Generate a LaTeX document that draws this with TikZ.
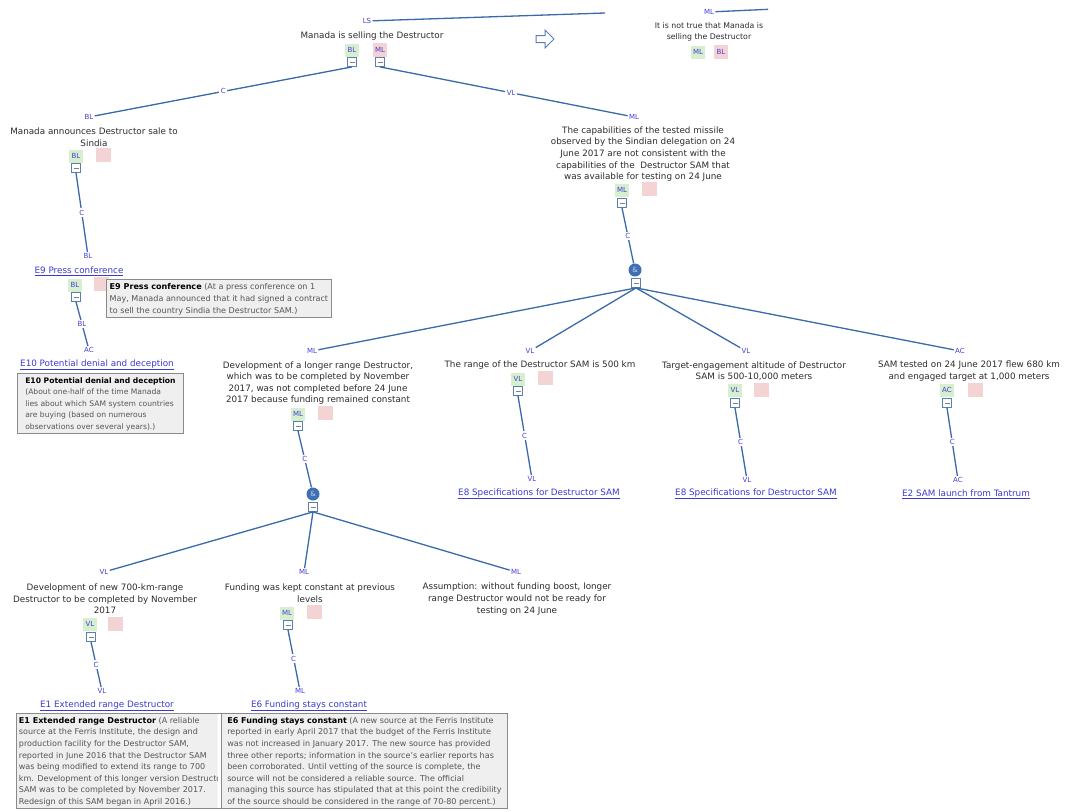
\documentclass[tikz,border=0pt]{standalone}
\usepackage{fontspec}
\setmainfont{DejaVu Sans}
\definecolor{lblblue}{RGB}{72,62,216}
\definecolor{connblue}{RGB}{58,106,168}
\definecolor{taggreen}{RGB}{214,239,207}
\definecolor{tagpink}{RGB}{243,211,211}
\definecolor{foldblue}{RGB}{91,127,174}
\definecolor{andblue}{RGB}{63,111,181}
\definecolor{linkblue}{RGB}{59,59,209}
\definecolor{txtgray}{RGB}{45,45,45}
\definecolor{popfill}{RGB}{239,239,239}
\definecolor{popdraw}{RGB}{138,138,138}
\definecolor{poptxt}{RGB}{85,85,85}
\newcommand\mainsz{\fontsize{8.8pt}{11.6pt}\selectfont}
\newcommand\smallmainsz{\fontsize{7.8pt}{11.6pt}\selectfont}
\newcommand\popsz{\fontsize{8.05pt}{11.6pt}\selectfont}
\newcommand\narrowpopsz{\fontsize{7.6pt}{11.6pt}\selectfont}
\newcommand\tagsz{\fontsize{7pt}{7pt}\selectfont}
\newcommand\poplead[1]{{\color{black}\bfseries #1}}
\tikzset{
  lbl/.style={font=\tagsz, text=lblblue, inner sep=1.2pt},
  edgelbl/.style={lbl, fill=white, inner sep=1.5pt},
  claim/.style={font=\mainsz, align=center, text=txtgray, inner sep=0pt},
  gtag/.style={fill=taggreen, font=\tagsz, text=lblblue, minimum width=14, minimum height=13, inner sep=0pt},
  ptag/.style={fill=tagpink, font=\tagsz, text=lblblue, minimum width=15, minimum height=14, inner sep=0pt},
  fold/.style={draw=foldblue, fill=white, line width=0.8pt, minimum size=9, inner sep=0pt,
    path picture={\draw[gray, line width=0.6pt]
      ([xshift=-2.5pt]path picture bounding box.center) -- ([xshift=2.5pt]path picture bounding box.center);}},
  conn/.style={draw=connblue, line width=1.3pt},
  andnode/.style={circle, fill=andblue, minimum size=13, inner sep=0pt, font=\tagsz, text=white!70!andblue},
  link/.style={font=\mainsz, text=linkblue, inner sep=0.5pt},
  popup/.style={draw=popdraw, fill=popfill, line width=0.8pt, align=left, font=\popsz, text=poptxt,
    inner xsep=2.5pt, inner ysep=2pt, anchor=north west, text depth=0pt}
}
\begin{document}
\begin{tikzpicture}[x=1pt,y=-1pt]
\useasboundingbox[fill=white] (0,0) rectangle (1067,811);

% ---------- root claim ----------
\node[lbl] (rootL) at (367,21) {LS};
\coordinate (rootUp) at (605,13);
\draw[conn] (rootL) -- (rootUp);
\node[claim] (root) at (372,36) {Manada is selling the Destructor};
\node[gtag] (rootG) at (352,50) {BL};
\node[ptag, minimum width=14] (rootP) at (380,50) {ML};
\node[fold] (rootFA) at (352,62) {};
\node[fold] (rootFB) at (380,62) {};

% ---------- view switch arrow ----------
\draw[foldblue, line width=1pt, line join=miter]
  (536,35.5) -- (545,35.5) -- (545,30) -- (554,39) -- (545,48) -- (545,42.5) -- (536,42.5) -- cycle;

% ---------- negated root (partly hidden at the right) ----------
\begin{scope}
  \clip (620,0) rectangle (768,70);
  \node[lbl] (negL) at (709,12) {ML};
  \coordinate (negUp) at (775,9);
  \draw[conn] (negL) -- (negUp);
  \node[claim, font=\smallmainsz] (neg) at (709,32) {It is not true that Manada is\\selling the Destructor};
  \node[gtag] (negG) at (698,52) {ML};
  \node[ptag, minimum width=14] (negP) at (721,52) {BL};
\end{scope}

% ---------- sale announcement branch ----------
\node[lbl] (saleL) at (89,117) {BL};
\draw[conn] (rootFA.south) -- node[edgelbl] {C} (saleL);
\node[claim] (sale) at (94,137) {Manada announces Destructor sale to\\Sindia};
\node[gtag] (saleG) at (76,156) {BL};
\node[ptag] (saleP) at (103,155) {};
\node[fold] (saleF) at (76,168) {};

\node[lbl] (e9L) at (88,256) {BL};
\draw[conn] (saleF.south) -- node[edgelbl] {C} (e9L);
\node[link] (e9) at (79,271) {\underline{E9 Press conference}};
\node[gtag] (e9G) at (75,285) {BL};
\node[ptag] (e9P) at (101,284) {};
\node[fold] (e9F) at (76,297) {};
\node[popup, minimum width=225, minimum height=38] (e9pop) at (106,279)
  {\poplead{E9 Press conference} (At a press conference on 1\\
   May, Manada announced that it had signed a contract\\
   to sell the country Sindia the Destructor SAM.)};

\node[lbl] (e10L) at (89,350) {AC};
\draw[conn] (e9F.south) -- node[edgelbl] {BL} (e10L);
\node[link] (e10) at (97,365) {\underline{E10 Potential denial and deception}};
\node[popup, font=\narrowpopsz, minimum width=166, minimum height=60] (e10pop) at (17,373)
  {\poplead{E10 Potential denial and deception}\\
   (About one-half of the time Manada\\
   lies about which SAM system countries\\
   are buying (based on numerous\\
   observations over several years).)};

% ---------- capabilities branch ----------
\node[lbl] (capL) at (634,117) {ML};
\draw[conn] (rootFB.south) -- node[edgelbl, pos=0.53] {VL} (capL);
\node[claim] (cap) at (643,154) {The capabilities of the tested missile\\
  observed by the Sindian delegation on 24\\
  June 2017 are not consistent with the\\
  capabilities of the\ \ Destructor SAM that\\
  was available for testing on 24 June};
\node[gtag] (capG) at (622,190) {ML};
\node[ptag] (capP) at (649,189) {};
\node[fold] (capF) at (622,203) {};
\node[andnode] (capAnd) at (635,270) {\&};
\node[fold] (capAF) at (636,283) {};
\draw[conn] (capF.south) -- node[edgelbl] {C} (capAnd);

% longer range development
\node[lbl] (devL) at (312,351) {ML};
\node[claim] (dev) at (318,383) {Development of a longer range Destructor,\\
  which was to be completed by November\\
  2017, was not completed before 24 June\\
  2017 because funding remained constant};
\node[gtag] (devG) at (298,414) {ML};
\node[ptag] (devP) at (325,413) {};
\node[fold] (devF) at (298,426) {};
\node[andnode] (devAnd) at (313,494) {\&};
\node[fold] (devAF) at (313,507) {};
\draw[conn] (devF.south) -- node[edgelbl] {C} (devAnd);

% range
\node[lbl] (rngL) at (530,351) {VL};
\node[claim] (rng) at (540,365) {The range of the Destructor SAM is 500 km};
\node[gtag] (rngG) at (518,379) {VL};
\node[ptag] (rngP) at (545,378) {};
\node[fold] (rngF) at (518,391) {};
\node[lbl] (e8aL) at (532,479) {VL};
\draw[conn] (rngF.south) -- node[edgelbl] {C} (e8aL);
\node[link] (e8a) at (539,494) {\underline{E8 Specifications for Destructor SAM}};

% altitude
\node[lbl] (altL) at (746,351) {VL};
\node[claim] (alt) at (754,371) {Target-engagement altitude of Destructor\\SAM is 500-10,000 meters};
\node[gtag] (altG) at (735,390) {VL};
\node[ptag] (altP) at (761,390) {};
\node[fold] (altF) at (735,403) {};
\node[lbl] (e8bL) at (747,480) {VL};
\draw[conn] (altF.south) -- node[edgelbl] {C} (e8bL);
\node[link] (e8b) at (756,494) {\underline{E8 Specifications for Destructor SAM}};

% flight test
\node[lbl] (tstL) at (960,351) {AC};
\node[claim] (tst) at (969,371) {SAM tested on 24 June 2017 flew 680 km\\and engaged target at 1,000 meters};
\node[gtag] (tstG) at (947,390) {AC};
\node[ptag] (tstP) at (975,390) {};
\node[fold] (tstF) at (947,403) {};
\node[lbl] (e2L) at (958,480) {AC};
\draw[conn] (tstF.south) -- node[edgelbl] {C} (e2L);
\node[link] (e2) at (966,494) {\underline{E2 SAM launch from Tantrum}};

\foreach \k in {devL, rngL, altL, tstL}
  \draw[conn] (capAF.south) -- (\k);

% ---------- bottom tier ----------
\node[lbl] (newL) at (104,572) {VL};
\node[claim] (new) at (105,599) {Development of new 700-km-range\\Destructor to be completed by November\\2017};
\node[gtag] (newG) at (90,624) {VL};
\node[ptag] (newP) at (115,624) {};
\node[fold] (newF) at (91,637) {};
\node[lbl] (e1L) at (102,691) {VL};
\draw[conn] (newF.south) -- node[edgelbl] {C} (e1L);
\node[link] (e1) at (107,706) {\underline{E1 Extended range Destructor}};
\begin{scope}
  \clip (15.4,712.4) rectangle (217.6,808.6);
  \node[popup, minimum width=201, minimum height=95] (e1pop) at (16,713)
    {\poplead{E1 Extended range Destructor} (A reliable\\
     source at the Ferris Institute, the design and\\
     production facility for the Destructor SAM,\\
     reported in June 2016 that the Destructor SAM\\
     was being modified to extend its range to 700\\
     km. Development of this longer version Destructor\\
     SAM was to be completed by November 2017.\\
     Redesign of this SAM began in April 2016.)};
\end{scope}
\draw[popdraw, line width=0.8pt] (e1pop.north west) rectangle (e1pop.south east);

\node[lbl] (fndL) at (304,572) {ML};
\node[claim] (fnd) at (310,593) {Funding was kept constant at previous\\levels};
\node[gtag] (fndG) at (287,613) {ML};
\node[ptag] (fndP) at (314,612) {};
\node[fold] (fndF) at (288,625) {};
\node[lbl] (e6L) at (300,691) {ML};
\draw[conn] (fndF.south) -- node[edgelbl] {C} (e6L);
\node[link] (e6) at (309,706) {\underline{E6 Funding stays constant}};
\begin{scope}
  \clip (220.4,712.4) rectangle (507.6,808.6);
  \node[popup, minimum width=286, minimum height=95] (e6pop) at (221,713)
    {\poplead{E6 Funding stays constant} (A new source at the Ferris Institute\\
     reported in early April 2017 that the budget of the Ferris Institute\\
     was not increased in January 2017. The new source has provided\\
     three other reports; information in the source's earlier reports has\\
     been corroborated. Until vetting of the source is complete, the\\
     source will not be considered a reliable source. The official\\
     managing this source has stipulated that at this point the credibility\\
     of the source should be considered in the range of 70-80 percent.)};
\end{scope}
\draw[popdraw, line width=0.8pt] (e6pop.north west) rectangle (e6pop.south east);

\node[lbl] (asmL) at (516,572) {ML};
\node[claim] (asm) at (517,599) {Assumption: without funding boost, longer\\range Destructor would not be ready for\\testing on 24 June};

\foreach \k in {newL, fndL, asmL}
  \draw[conn] (devAF.south) -- (\k);
\end{tikzpicture}
\end{document}
